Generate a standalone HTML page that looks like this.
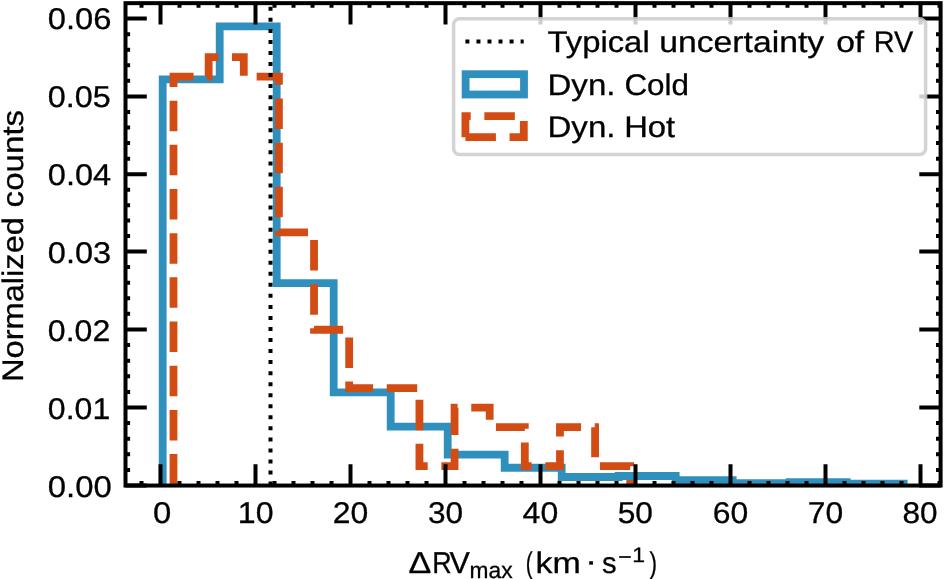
<!DOCTYPE html>
<html><head><meta charset="utf-8"><title>chart</title>
<style>html,body{margin:0;padding:0;background:#fff;overflow:hidden}svg text{font-family:"Liberation Sans",sans-serif}</style></head>
<body>
<svg width="944" height="579" viewBox="0 0 944 579" style="display:block">
<rect x="0" y="0" width="944" height="579" fill="#fff"/>
<defs><clipPath id="ax"><rect x="125.5" y="3.15" width="815.1" height="482.40000000000003"/></clipPath></defs>
<path d="M162.69 485.55 L162.69 79.33 L219.69 79.33 L219.69 26.41 L276.69 26.41 L276.69 283.22 L333.69 283.22 L333.69 392.40 L390.69 392.40 L390.69 426.56 L447.69 426.56 L447.69 454.58 L504.68 454.58 L504.68 467.73 L561.68 467.73 L561.68 476.99 L618.68 476.99 L618.68 475.98 L675.68 475.98 L675.68 480.26 L732.68 480.26 L732.68 483.22 L789.69 483.22 L789.69 482.13 L846.69 482.13 L846.69 483.68 L903.69 483.68 L903.69 485.55" stroke="#3090BD" stroke-width="7.8" fill="none" stroke-linejoin="miter" clip-path="url(#ax)"/>
<path d="M173.51 485.55 L173.51 76.59 L208.65 76.59 L208.65 57.11 L243.78 57.11 L243.78 76.59 L278.91 76.59 L278.91 232.38 L314.04 232.38 L314.04 329.75 L349.17 329.75 L349.17 388.18 L384.30 388.18 L384.30 388.18 L419.43 388.18 L419.43 466.08 L454.56 466.08 L454.56 407.65 L489.69 407.65 L489.69 427.13 L524.82 427.13 L524.82 466.08 L559.96 466.08 L559.96 427.13 L595.09 427.13 L595.09 466.08 L630.22 466.08 L630.22 485.55" stroke="#D24C14" stroke-width="7.8" fill="none" stroke-linejoin="miter" stroke-dasharray="30.5 13.67" stroke-dashoffset="-1" clip-path="url(#ax)"/>
<path d="M270.51 485.55 V3.15" stroke="#000" stroke-width="4.0" stroke-dasharray="4.0 7.04" fill="none"/>
<path d="M160.50 485.55 V464.25 M160.50 3.15 V24.45 M255.50 485.55 V464.25 M255.50 3.15 V24.45 M350.50 485.55 V464.25 M350.50 3.15 V24.45 M445.50 485.55 V464.25 M445.50 3.15 V24.45 M540.50 485.55 V464.25 M540.50 3.15 V24.45 M635.50 485.55 V464.25 M635.50 3.15 V24.45 M730.50 485.55 V464.25 M730.50 3.15 V24.45 M825.50 485.55 V464.25 M825.50 3.15 V24.45 M920.50 485.55 V464.25 M920.50 3.15 V24.45 M141.50 485.55 V480.95 M141.50 3.15 V7.75 M179.50 485.55 V480.95 M179.50 3.15 V7.75 M198.50 485.55 V480.95 M198.50 3.15 V7.75 M217.50 485.55 V480.95 M217.50 3.15 V7.75 M236.50 485.55 V480.95 M236.50 3.15 V7.75 M274.50 485.55 V480.95 M274.50 3.15 V7.75 M293.50 485.55 V480.95 M293.50 3.15 V7.75 M312.50 485.55 V480.95 M312.50 3.15 V7.75 M331.50 485.55 V480.95 M331.50 3.15 V7.75 M369.50 485.55 V480.95 M369.50 3.15 V7.75 M388.50 485.55 V480.95 M388.50 3.15 V7.75 M407.50 485.55 V480.95 M407.50 3.15 V7.75 M426.50 485.55 V480.95 M426.50 3.15 V7.75 M464.50 485.55 V480.95 M464.50 3.15 V7.75 M483.50 485.55 V480.95 M483.50 3.15 V7.75 M502.50 485.55 V480.95 M502.50 3.15 V7.75 M521.50 485.55 V480.95 M521.50 3.15 V7.75 M559.50 485.55 V480.95 M559.50 3.15 V7.75 M578.50 485.55 V480.95 M578.50 3.15 V7.75 M597.50 485.55 V480.95 M597.50 3.15 V7.75 M616.50 485.55 V480.95 M616.50 3.15 V7.75 M654.50 485.55 V480.95 M654.50 3.15 V7.75 M673.50 485.55 V480.95 M673.50 3.15 V7.75 M692.50 485.55 V480.95 M692.50 3.15 V7.75 M711.50 485.55 V480.95 M711.50 3.15 V7.75 M749.50 485.55 V480.95 M749.50 3.15 V7.75 M768.50 485.55 V480.95 M768.50 3.15 V7.75 M787.50 485.55 V480.95 M787.50 3.15 V7.75 M806.50 485.55 V480.95 M806.50 3.15 V7.75 M844.50 485.55 V480.95 M844.50 3.15 V7.75 M863.50 485.55 V480.95 M863.50 3.15 V7.75 M882.50 485.55 V480.95 M882.50 3.15 V7.75 M901.50 485.55 V480.95 M901.50 3.15 V7.75 M939.50 485.55 V480.95 M939.50 3.15 V7.75 M125.5 485.55 H146.80 M940.6 485.55 H919.30 M125.5 407.50 H146.80 M940.6 407.50 H919.30 M125.5 329.40 H146.80 M940.6 329.40 H919.30 M125.5 251.55 H146.80 M940.6 251.55 H919.30 M125.5 174.20 H146.80 M940.6 174.20 H919.30 M125.5 96.40 H146.80 M940.6 96.40 H919.30 M125.5 18.60 H146.80 M940.6 18.60 H919.30 M125.5 469.94 H130.10 M940.6 469.94 H936.00 M125.5 454.33 H130.10 M940.6 454.33 H936.00 M125.5 438.72 H130.10 M940.6 438.72 H936.00 M125.5 423.11 H130.10 M940.6 423.11 H936.00 M125.5 391.88 H130.10 M940.6 391.88 H936.00 M125.5 376.26 H130.10 M940.6 376.26 H936.00 M125.5 360.64 H130.10 M940.6 360.64 H936.00 M125.5 345.02 H130.10 M940.6 345.02 H936.00 M125.5 313.83 H130.10 M940.6 313.83 H936.00 M125.5 298.26 H130.10 M940.6 298.26 H936.00 M125.5 282.69 H130.10 M940.6 282.69 H936.00 M125.5 267.12 H130.10 M940.6 267.12 H936.00 M125.5 236.08 H130.10 M940.6 236.08 H936.00 M125.5 220.61 H130.10 M940.6 220.61 H936.00 M125.5 205.14 H130.10 M940.6 205.14 H936.00 M125.5 189.67 H130.10 M940.6 189.67 H936.00 M125.5 158.64 H130.10 M940.6 158.64 H936.00 M125.5 143.08 H130.10 M940.6 143.08 H936.00 M125.5 127.52 H130.10 M940.6 127.52 H936.00 M125.5 111.96 H130.10 M940.6 111.96 H936.00 M125.5 80.84 H130.10 M940.6 80.84 H936.00 M125.5 65.28 H130.10 M940.6 65.28 H936.00 M125.5 49.72 H130.10 M940.6 49.72 H936.00 M125.5 34.16 H130.10 M940.6 34.16 H936.00" stroke="#000" stroke-width="4.0" fill="none"/>
<rect x="125.5" y="3.15" width="815.1" height="482.40000000000003" fill="none" stroke="#000" stroke-width="4.0"/>
<rect x="453.6" y="18.7" width="472.0" height="135.8" rx="6" ry="6" fill="#fff" fill-opacity="0.8" stroke="#cccccc" stroke-opacity="0.85" stroke-width="3.5"/>
<path d="M465.4 41.4 H523.7" stroke="#000" stroke-width="4.0" stroke-dasharray="4.0 7.04" fill="none"/>
<rect x="465.6" y="74.2" width="58.4" height="20.3" fill="none" stroke="#3090BD" stroke-width="7.8"/>
<path d="M465.4 137.2 H523.8 V116.2 H465.4 V137.2" fill="none" stroke="#D24C14" stroke-width="7.8" stroke-dasharray="30.5 13.67"/>
<g font-family="Liberation Sans, sans-serif" fill="#000" stroke="#000" stroke-width="0.3" text-rendering="geometricPrecision" style="opacity:0.999">
<text transform="translate(47.83 497.20) scale(1.0965 1)" font-size="30.0">0.00</text>
<text transform="translate(47.87 419.20) scale(1.0683 1)" font-size="30.0">0.01</text>
<text transform="translate(47.87 341.20) scale(1.0683 1)" font-size="30.0">0.02</text>
<text transform="translate(47.85 263.20) scale(1.0851 1)" font-size="30.0">0.03</text>
<text transform="translate(47.85 185.20) scale(1.0853 1)" font-size="30.0">0.04</text>
<text transform="translate(47.86 107.20) scale(1.0786 1)" font-size="30.0">0.05</text>
<text transform="translate(47.84 29.20) scale(1.0905 1)" font-size="30.0">0.06</text>
<text transform="translate(152.89 523.15) scale(1.0947 1)" font-size="30.0">0</text>
<text transform="translate(237.84 523.15) scale(1.0717 1)" font-size="30.0">10</text>
<text transform="translate(332.80 523.15) scale(1.0634 1)" font-size="30.0">20</text>
<text transform="translate(428.04 523.15) scale(1.0531 1)" font-size="30.0">30</text>
<text transform="translate(522.60 523.15) scale(1.0667 1)" font-size="30.0">40</text>
<text transform="translate(617.73 523.15) scale(1.0564 1)" font-size="30.0">50</text>
<text transform="translate(712.80 523.15) scale(1.0634 1)" font-size="30.0">60</text>
<text transform="translate(807.81 523.15) scale(1.0602 1)" font-size="30.0">70</text>
<text transform="translate(902.38 523.15) scale(1.0518 1)" font-size="30.0">80</text>
<g>
<text transform="translate(547.48 52.00) scale(1.1060 1)" font-size="29.7">Typical </text>
<text transform="translate(659.26 52.00) scale(1.1357 1)" font-size="29.7">uncertainty </text>
<text transform="translate(836.16 52.00) scale(1.1308 1)" font-size="29.7">of </text>
<text transform="translate(873.79 52.00) scale(0.9721 1)" font-size="29.7">RV</text>
</g><g>
<text transform="translate(547.45 94.90) scale(1.1146 1)" font-size="29.7">Dyn. </text>
<text transform="translate(624.43 94.90) scale(1.0570 1)" font-size="29.7">Cold</text>
</g><g>
<text transform="translate(547.45 137.30) scale(1.1146 1)" font-size="29.7">Dyn. </text>
<text transform="translate(624.18 137.30) scale(1.1040 1)" font-size="29.7">Hot</text>
</g>
<g>
<text transform="translate(408.58 573.20) scale(1.1291 1)" font-size="30.2">Δ</text>
<text transform="translate(432.25 573.20) scale(0.8904 1)" font-size="30.2">R</text>
<text transform="translate(449.55 573.20) scale(1.0111 1)" font-size="30.2">V</text>
<text transform="translate(469.62 578.00) scale(0.9897 1)" font-size="23.0">max </text>
<text transform="translate(525.85 573.20) scale(0.6988 1)" font-size="29.7">(</text>
<text transform="translate(535.59 573.20) scale(1.1448 1)" font-size="29.7">km </text>
<text transform="translate(584.98 571.00) scale(1.2405 1)" font-size="29.7">· </text>
<text transform="translate(602.12 573.20) scale(0.9830 1)" font-size="29.7">s</text>
<text transform="translate(618.26 564.40) scale(1.0898 1)" font-size="21.0">−</text>
<text transform="translate(632.17 562.40) scale(1.0963 1)" font-size="21.0">1</text>
<text transform="translate(649.57 573.20) scale(0.7641 1)" font-size="29.7">)</text>
</g>
<g>
<text transform="translate(22.6 382.01) rotate(-90) scale(1.0988 1)" font-size="29.7">Normalized </text>
<text transform="translate(22.6 207.39) rotate(-90) scale(1.1153 1)" font-size="29.7">counts</text>
</g>
</g>
</svg>
</body></html>
